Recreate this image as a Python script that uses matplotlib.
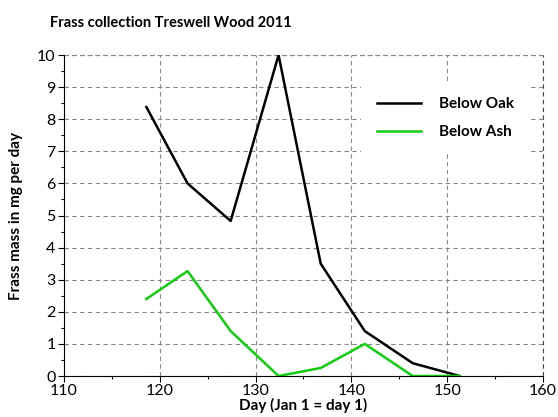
import numpy as np
import matplotlib.pyplot as plt
from matplotlib.ticker import MultipleLocator

plt.rcParams['font.family'] = ['Lato', 'DejaVu Sans']

# sampling days and frass mass (mg per day)
days = [118.6, 122.9, 127.4, 132.4, 136.8, 141.4, 146.4, 151.3]
below_oak = [8.38, 6.0, 4.83, 10.0, 3.5, 1.4, 0.4, 0.0]
below_ash = [2.4, 3.27, 1.4, 0.0, 0.25, 1.0, 0.0, 0.0]

fig = plt.figure(figsize=(5.58, 4.17), dpi=100)
ax = fig.add_axes([0.1147, 0.0983, 0.8583, 0.7697])

ax.plot(days, below_oak, color='black', lw=1.8, label='Below Oak')
ax.plot(days, below_ash, color='#11cc11', lw=1.8, label='Below Ash')

ax.set_xlim(110, 160)
ax.set_ylim(0, 10)
ax.xaxis.set_major_locator(MultipleLocator(10))
ax.xaxis.set_minor_locator(MultipleLocator(5))
ax.yaxis.set_major_locator(MultipleLocator(1))
ax.yaxis.set_minor_locator(MultipleLocator(0.5))
ax.tick_params(direction='out', labelsize=11.5, length=4, width=0.8, pad=2)
ax.tick_params(which='minor', direction='out', length=2.5, width=0.8)

for s in ['top', 'right']:
    ax.spines[s].set_visible(False)
ax.grid(True, color='#888888', ls=(0, (4, 3)), lw=0.8)
ax.set_axisbelow(True)
# dashed frame at top and right like the original
ax.axhline(10, color='#444444', ls=(0, (4, 3)), lw=0.8, clip_on=False, zorder=0.5)
ax.axvline(160, color='#444444', ls=(0, (4, 3)), lw=0.8, clip_on=False, zorder=0.5)

ax.set_xlabel('Day (Jan 1 = day 1)', fontsize=11, fontweight='bold', labelpad=0)
ax.set_ylabel('Frass mass in mg per day', fontsize=11, fontweight='bold', labelpad=10)

leg = ax.legend(loc='upper left', bbox_to_anchor=(0.605, 0.94), frameon=True,
                prop={'weight': 'bold', 'size': 11}, handlelength=2.9,
                labelspacing=0.9, handletextpad=1.2, borderpad=1.0,
                fancybox=False, framealpha=1.0)
leg.get_frame().set_edgecolor('none')
leg.get_frame().set_facecolor('white')

fig.text(0.09, 0.945, 'Frass collection Treswell Wood 2011', fontsize=10.5,
         fontweight='bold', ha='left', va='center')

fig.savefig('out.png', dpi=100)
